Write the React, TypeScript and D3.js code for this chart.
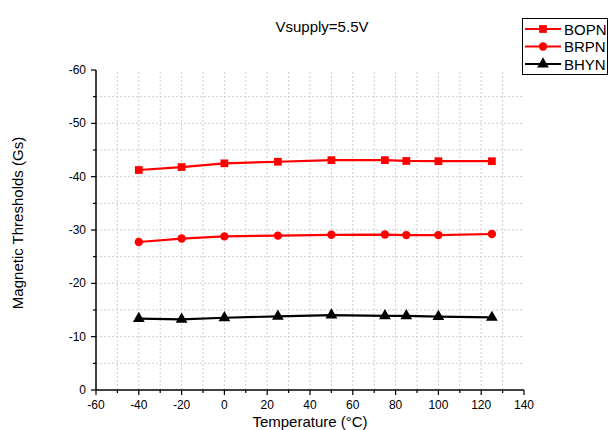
import React from 'react';
import * as d3 from 'd3';

// temperatures (°C) and the three threshold series (Gs)
const temps = [-40, -20, 0, 25, 50, 75, 85, 100, 125];
const bopn = [-41.25, -41.8, -42.5, -42.8, -43.1, -43.1, -42.95, -42.9, -42.9];
const brpn = [-27.75, -28.4, -28.8, -28.95, -29.1, -29.15, -29.05, -29.05, -29.25];
const bhyn = [-13.4, -13.25, -13.55, -13.8, -14.05, -13.9, -13.9, -13.75, -13.6];

const seriesNames = ['BOPN', 'BRPN', 'BHYN'];
const seriesColors = ['#ff0000', '#ff0000', '#000000'];
const seriesShapes = [d3.symbolSquare, d3.symbolCircle, d3.symbolTriangle];

const xTicks = [-60, -40, -20, 0, 20, 40, 60, 80, 100, 120, 140];
const yTicks = [0, -10, -20, -30, -40, -50, -60];

const font = 'Liberation Sans, Arial, sans-serif';

export default function App() {
  const width = 612;
  const height = 430;
  const left = 96, right = 524, top = 70, bottom = 390;

  const x = d3.scaleLinear().domain([-60, 140]).range([left, right]);
  const y = d3.scaleLinear().domain([0, -60]).range([bottom, top]);

  const all = [bopn, brpn, bhyn];
  const line = d3.line<number>()
    .x((d, i) => x(temps[i]))
    .y((d) => y(d));

  const xGrid = d3.range(-50, 131, 10);
  const yGrid = d3.range(-5, -56, -5);
  const xMinor = d3.range(-50, 131, 20);
  const yMinor = d3.range(-5, -56, -10);

  const sizes = [60, 55, 60];

  return (
    <svg width={width} height={height} style={{ position: 'absolute', left: 0, top: 0 }}>
      <rect width={width} height={height} fill="#fff" />
      {/* grid */}
      {xGrid.map((v) => (
        <line key={'gx' + v} x1={x(v)} x2={x(v)} y1={bottom} y2={top}
          stroke="#cfcfcf" strokeDasharray="2,2" strokeWidth={1} />
      ))}
      {yGrid.map((v) => (
        <line key={'gy' + v} x1={left} x2={right} y1={y(v)} y2={y(v)}
          stroke="#cfcfcf" strokeDasharray="2,2" strokeWidth={1} />
      ))}

      {/* series */}
      {all.map((s, si) => (
        <g key={seriesNames[si]}>
          <path d={line(s) || ''} fill="none" stroke={seriesColors[si]} strokeWidth={2.2} />
          {s.map((v, i) => (
            <path key={i}
              d={d3.symbol().type(seriesShapes[si]).size(sizes[si])() || ''}
              transform={`translate(${x(temps[i])},${y(v)})`}
              fill={seriesColors[si]} />
          ))}
        </g>
      ))}

      {/* axes */}
      <line x1={left} x2={right} y1={bottom} y2={bottom} stroke="#000" strokeWidth={1.5} />
      <line x1={left} x2={left} y1={bottom} y2={top} stroke="#000" strokeWidth={1.5} />
      {xTicks.map((v) => (
        <g key={'xt' + v}>
          <line x1={x(v)} x2={x(v)} y1={bottom} y2={bottom + 5} stroke="#000" strokeWidth={1.2} />
          <text x={x(v)} y={bottom + 19} textAnchor="middle" fontSize={12} fontFamily={font}>{v}</text>
        </g>
      ))}
      {xMinor.map((v) => (
        <line key={'xm' + v} x1={x(v)} x2={x(v)} y1={bottom} y2={bottom + 3} stroke="#000" strokeWidth={1.2} />
      ))}
      {yTicks.map((v) => (
        <g key={'yt' + v}>
          <line x1={left - 5} x2={left} y1={y(v)} y2={y(v)} stroke="#000" strokeWidth={1.2} />
          <text x={left - 10} y={y(v) + 4} textAnchor="end" fontSize={12} fontFamily={font}>{v}</text>
        </g>
      ))}
      {yMinor.map((v) => (
        <line key={'ym' + v} x1={left - 3} x2={left} y1={y(v)} y2={y(v)} stroke="#000" strokeWidth={1.2} />
      ))}

      {/* labels */}
      <text x={322} y={32} textAnchor="middle" fontSize={15} fontFamily={font}>Vsupply=5.5V</text>
      <text x={(left + right) / 2} y={427} textAnchor="middle" fontSize={15} fontFamily={font}>Temperature (°C)</text>
      <text transform={`translate(23,223) rotate(-90)`} textAnchor="middle"
        fontSize={15} fontFamily={font}>Magnetic Thresholds (Gs)</text>

      {/* legend */}
      <rect x={522.5} y={18.5} width={85} height={56} fill="#fff" stroke="#000" strokeWidth={1} />
      {seriesNames.map((n, i) => (
        <g key={'lg' + n} transform={`translate(0,${29 + i * 17.5})`}>
          <line x1={525} x2={561} y1={0} y2={0} stroke={seriesColors[i]} strokeWidth={2.2} />
          <path d={d3.symbol().type(seriesShapes[i]).size(sizes[i])() || ''}
            transform="translate(543,0)" fill={seriesColors[i]} />
          <text x={564} y={5.5} fontSize={15} fontFamily={font}>{n}</text>
        </g>
      ))}
    </svg>
  );
}
